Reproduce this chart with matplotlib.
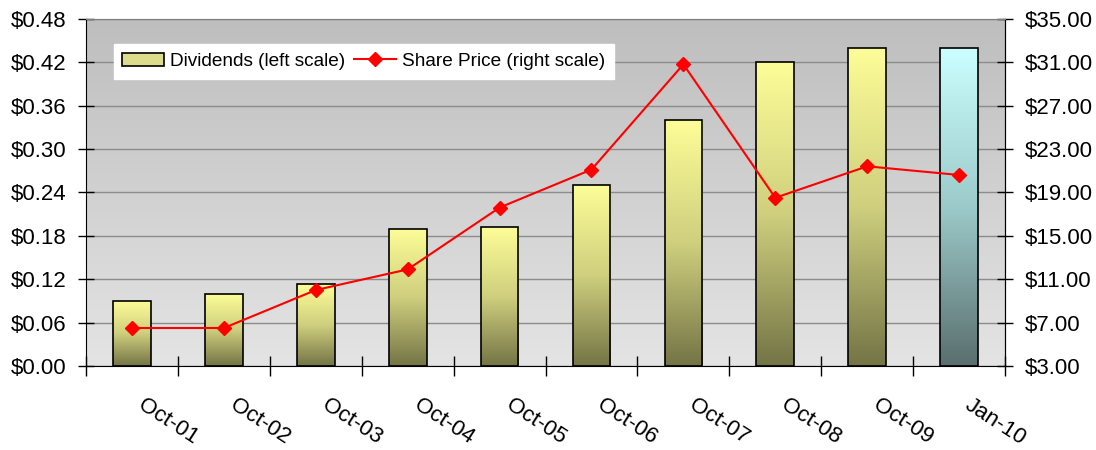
import matplotlib.pyplot as plt
import numpy as np
from matplotlib.colors import LinearSegmentedColormap
from matplotlib.patches import Patch
from matplotlib.lines import Line2D
from matplotlib.transforms import ScaledTranslation

plt.rcParams['font.family'] = ['Liberation Sans', 'DejaVu Sans']

labels = ['Oct-01', 'Oct-02', 'Oct-03', 'Oct-04', 'Oct-05',
          'Oct-06', 'Oct-07', 'Oct-08', 'Oct-09', 'Jan-10']
dividends = [0.09, 0.10, 0.113, 0.19, 0.192, 0.25, 0.34, 0.42, 0.44, 0.44]
share_price = [6.5, 6.5, 10.0, 11.9, 17.6, 21.1, 30.8, 18.5, 21.4, 20.6]
left_ticks = np.arange(0, 0.481, 0.06)
right_ticks = np.arange(3, 35.1, 4)

yellow = LinearSegmentedColormap.from_list('yellow', ['#747446', '#cfcf7e', '#fdfd98'])
cyan = LinearSegmentedColormap.from_list('cyan', ['#5a6e6e', '#9ccaca', '#ccffff'])
bg = LinearSegmentedColormap.from_list('bg', ['#e4e4e4', '#bebebe'])
grad = np.linspace(0, 1, 256).reshape(-1, 1)

fig = plt.figure(figsize=(10.96, 4.5), dpi=100)
ax = fig.add_axes([0.0785, 0.1867, 0.8385, 0.7717])

# plot area background
ax.imshow(grad, cmap=bg, extent=[0, 1, 0, 1], transform=ax.transAxes,
          aspect='auto', origin='lower', zorder=0)

x = np.arange(len(labels))
bars = ax.bar(x, dividends, width=0.41, facecolor='none', edgecolor='black',
              linewidth=1.2, zorder=3)
for i, b in enumerate(bars):
    cmap = cyan if i == len(bars) - 1 else yellow
    x0, w, h = b.get_x(), b.get_width(), b.get_height()
    im = ax.imshow(grad, cmap=cmap, extent=[x0, x0 + w, 0, h],
                   aspect='auto', origin='lower', zorder=2)
    im.set_clip_path(b)

ax.set_xlim(-0.5, len(labels) - 0.5)
ax.set_ylim(0, 0.48)
ax.set_yticks(left_ticks)
ax.set_yticklabels([f'${v:.2f}' for v in left_ticks], fontsize=16)
ax.yaxis.grid(True, color='#8c8c8c', linewidth=1)
ax.set_axisbelow(True)
ax.tick_params(axis='y', direction='inout', length=12, width=1, pad=8)

ax.set_xticks(np.arange(-0.5, len(labels), 1), minor=True)
ax.tick_params(axis='x', which='major', length=0, pad=27)
ax.tick_params(axis='x', which='minor', direction='inout', length=14, width=1)
ax.set_xticks(x)
ax.set_xticklabels(labels, fontsize=16, rotation=-33, ha='left', va='center',
                   rotation_mode='anchor')
shift = ScaledTranslation(8 / 100, 0, fig.dpi_scale_trans)
for lab in ax.get_xticklabels():
    lab.set_transform(lab.get_transform() + shift)

for s in ['left', 'bottom']:
    ax.spines[s].set_color('black')
ax.spines['top'].set_color('#808080')

ax2 = ax.twinx()
ax2.plot(x, share_price, color='red', marker='D', markersize=7,
         linewidth=1.5, zorder=4)
ax2.set_ylim(3, 35)
ax2.set_yticks(right_ticks)
ax2.set_yticklabels([f'${v:.2f}' for v in right_ticks], fontsize=16)
ax2.tick_params(axis='y', direction='inout', length=12, width=1, pad=8)
ax2.spines['top'].set_color('#808080')
ax2.spines['left'].set_visible(False)
ax2.spines['bottom'].set_visible(False)

handles = [Patch(facecolor='#dcdc8c', edgecolor='black', linewidth=1.2),
           Line2D([], [], color='red', marker='D', markersize=7, linewidth=1.5)]
ax2.legend(handles, ['Dividends (left scale)', 'Share Price (right scale)'],
           loc='upper left', bbox_to_anchor=(0.03, 0.927), ncol=2,
           fontsize=13.7, frameon=True, facecolor='white', edgecolor='white',
           fancybox=False, framealpha=1, borderaxespad=0, handlelength=2.2,
           handletextpad=0.3, columnspacing=0.5, borderpad=0.45)

plt.savefig('out.png', dpi=100)
plt.close()
